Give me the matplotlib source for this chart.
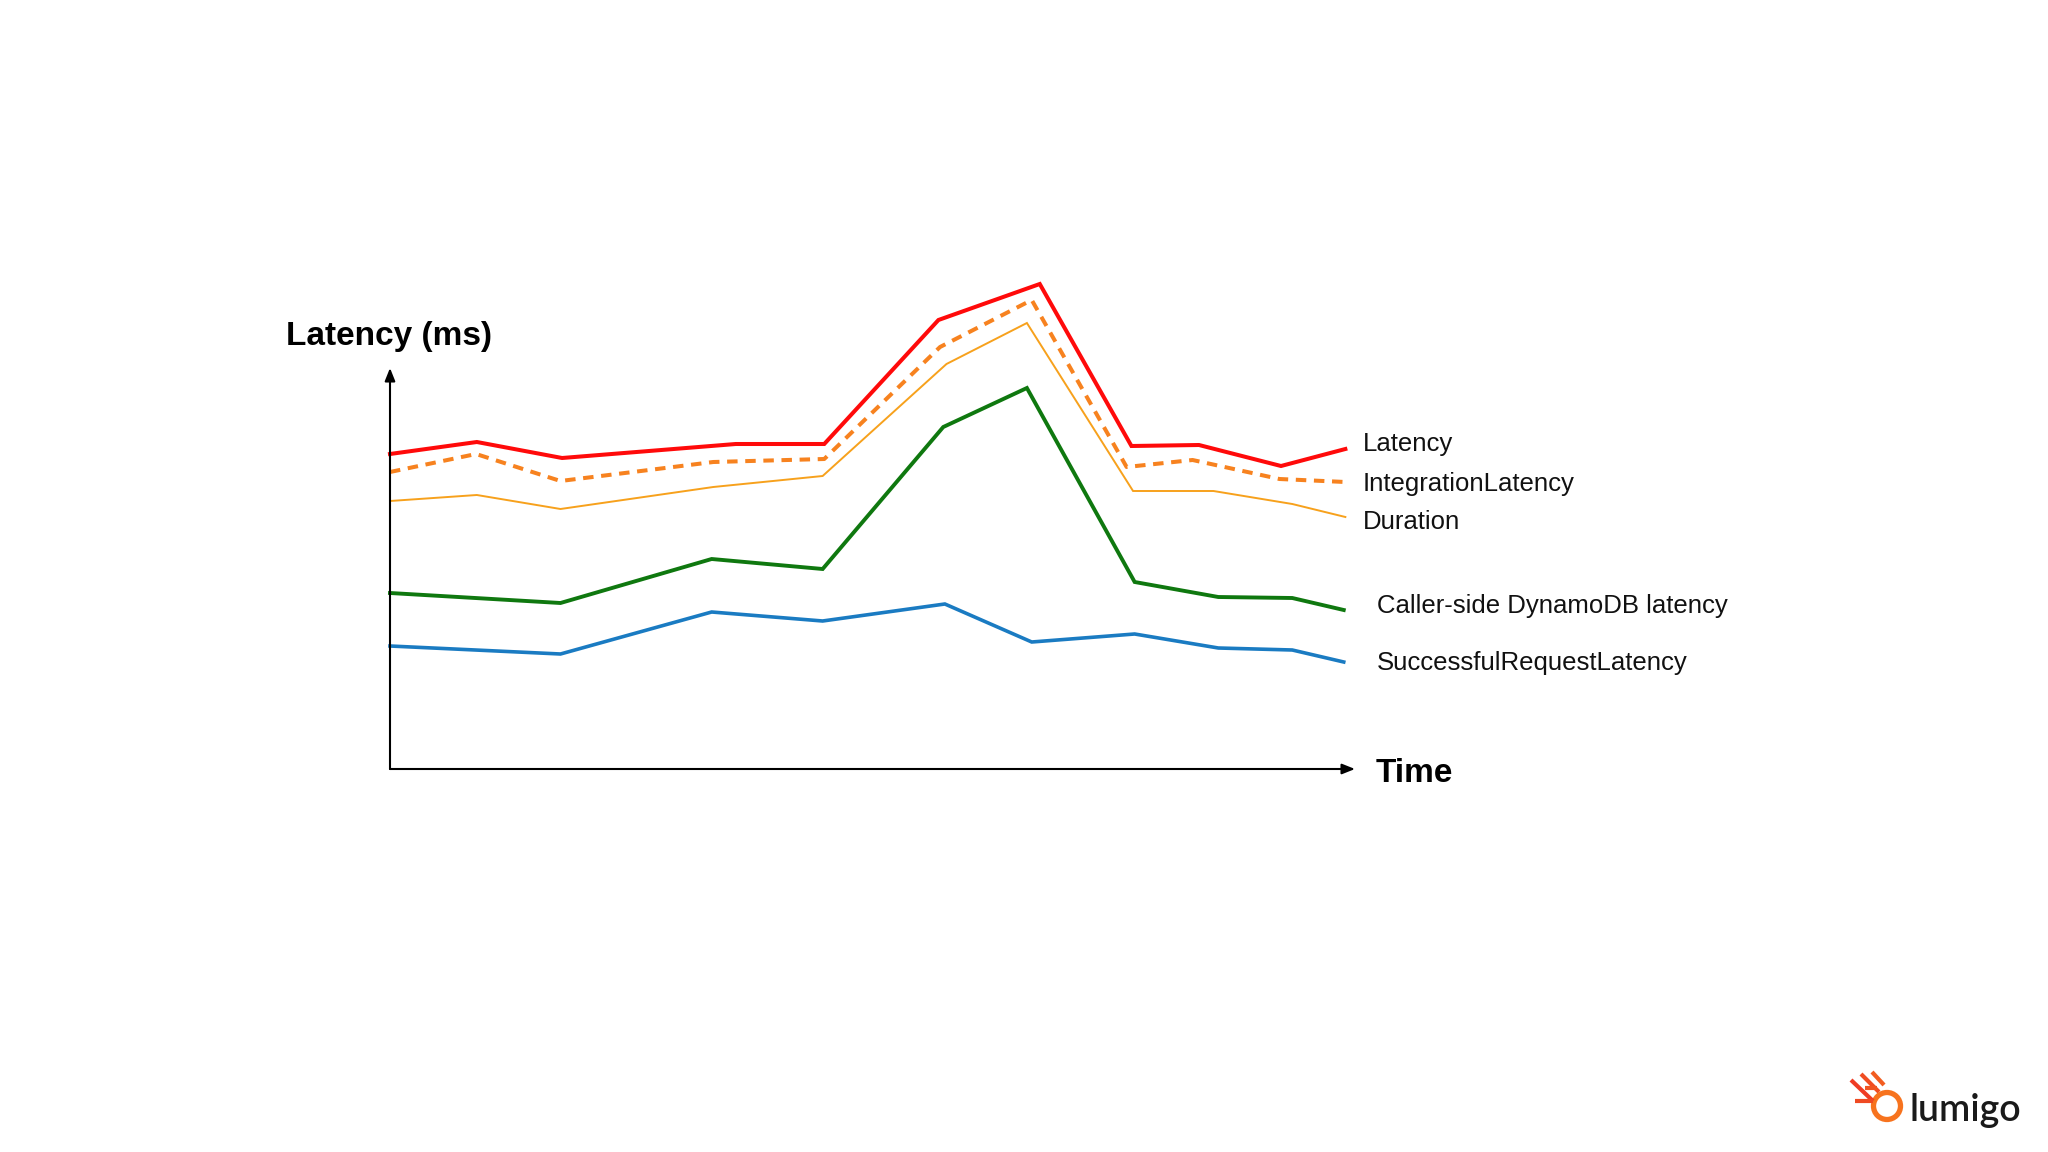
import matplotlib
matplotlib.use("Agg")
import matplotlib.pyplot as plt
from matplotlib.patches import Circle
from matplotlib.lines import Line2D

plt.rcParams['font.family'] = ['Liberation Sans', 'DejaVu Sans']

# ---- data (time in minutes, latency in ms) ----
latency_t = [0, 5.4, 10.7, 21.5, 27.0, 34.1, 40.4, 46.1, 50.3, 55.4, 59.4]
latency_v = [157.5, 163.5, 155.5, 162.5, 162.5, 224.5, 242.5, 161.5, 162, 151.5, 160]

integration_t = [0, 5.35, 10.6, 20.1, 27.0, 34.2, 39.9, 45.8, 49.9, 55.3, 59.4]
integration_v = [148.5, 157.5, 144, 153.5, 155, 211, 234.5, 151, 154.5, 145, 143.5]

duration_t = [0, 5.4, 10.6, 20.1, 26.9, 34.6, 39.6, 46.2, 51.2, 56.1, 59.4]
duration_v = [134, 137, 130, 141, 146.5, 202.5, 223, 139, 139, 132.5, 126]

dynamo_t = [0, 10.6, 20.0, 26.9, 34.4, 39.6, 46.3, 51.5, 56.1, 59.3]
dynamo_v = [88, 83, 105, 100, 171, 190.5, 93.5, 86, 85.5, 79.5]

success_t = [0, 10.6, 20.0, 26.9, 34.5, 39.9, 46.3, 51.5, 56.1, 59.3]
success_v = [61.5, 57.5, 78.5, 74, 82.5, 63.5, 67.5, 60.5, 59.5, 53.5]

series_labels = ["Latency", "IntegrationLatency", "Duration",
                 "Caller-side DynamoDB latency", "SuccessfulRequestLatency"]
y_label = "Latency (ms)"
x_label = "Time"

W, H = 2048, 1152
fig = plt.figure(figsize=(W / 100, H / 100), dpi=100)
fig.patch.set_facecolor('white')

def fx(px):
    return px / W

def fy(py):
    return 1 - py / H

# main axes: x 0..60 -> px 390..1355, y 0..250 -> px 769..269
ax = fig.add_axes([fx(390), fy(769), (1355 - 390) / W, (769 - 269) / H])
ax.set_xlim(0, 60)
ax.set_ylim(0, 250)
ax.axis('off')

ax.plot(success_t, success_v, color='#1a7bc2', lw=2.6, clip_on=False, solid_joinstyle='miter')
ax.plot(dynamo_t, dynamo_v, color='#0f780f', lw=2.8, clip_on=False, solid_joinstyle='miter')
ax.plot(duration_t, duration_v, color='#f7a11c', lw=1.4, clip_on=False, solid_joinstyle='miter')
ax.plot(integration_t, integration_v, color='#f7821f', lw=2.9, clip_on=False,
        linestyle=(0, (2.6, 1.9)), dash_capstyle='butt')
ax.plot(latency_t, latency_v, color='#ff0a0a', lw=2.9, clip_on=False, solid_joinstyle='miter')

# axis arrows
arrow_kw = dict(arrowstyle='-|>,head_length=0.7,head_width=0.28', lw=1.5,
                color='black', shrinkA=0, shrinkB=0, mutation_scale=11)
ax.annotate('', xy=(60, 0), xytext=(0, 0), arrowprops=arrow_kw, annotation_clip=False)
ax.annotate('', xy=(0, 200.5), xytext=(0, 0), arrowprops=arrow_kw, annotation_clip=False)

# axis titles
fig.text(fx(389.5), fy(345), y_label, fontsize=24, fontweight='bold',
         ha='center', va='baseline', color='black')
fig.text(fx(1376), fy(782), x_label, fontsize=24, fontweight='bold',
         ha='left', va='baseline', color='black')

# series labels
label_pos = [(1363, 451), (1363, 491), (1363, 529), (1377, 613), (1377, 670)]
for lab, (px, py) in zip(series_labels, label_pos):
    fig.text(fx(px), fy(py), lab, fontsize=18.5, ha='left', va='baseline', color='#111111')

# lumigo logo
lax = fig.add_axes([fx(1845), fy(1125), 65 / W, 60 / H])
lax.set_xlim(1845, 1910)
lax.set_ylim(1125, 1065)
lax.axis('off')
lax.add_patch(Circle((1887, 1106), 13.5, fill=False, lw=3.8, edgecolor='#f7731e'))
for (x0, y0, x1, y1, c) in [
    (1851, 1080, 1873, 1101, '#ef3b24'),
    (1861, 1074, 1879, 1092, '#f04d22'),
    (1872, 1072, 1884, 1085, '#f25d20'),
    (1855, 1101, 1873, 1101, '#ef4a22'),
    (1865, 1088, 1877, 1088, '#f05522'),
]:
    lax.add_line(Line2D([x0, x1], [y0, y1], color=c, lw=3.0, solid_capstyle='butt'))
fig.text(fx(1909), fy(1121), "lumigo", fontsize=27, family=['Lato', 'DejaVu Sans'],
         fontweight='semibold', ha='left', va='baseline', color='#1a1a1a')

fig.savefig('out.png', dpi=100, facecolor='white')
